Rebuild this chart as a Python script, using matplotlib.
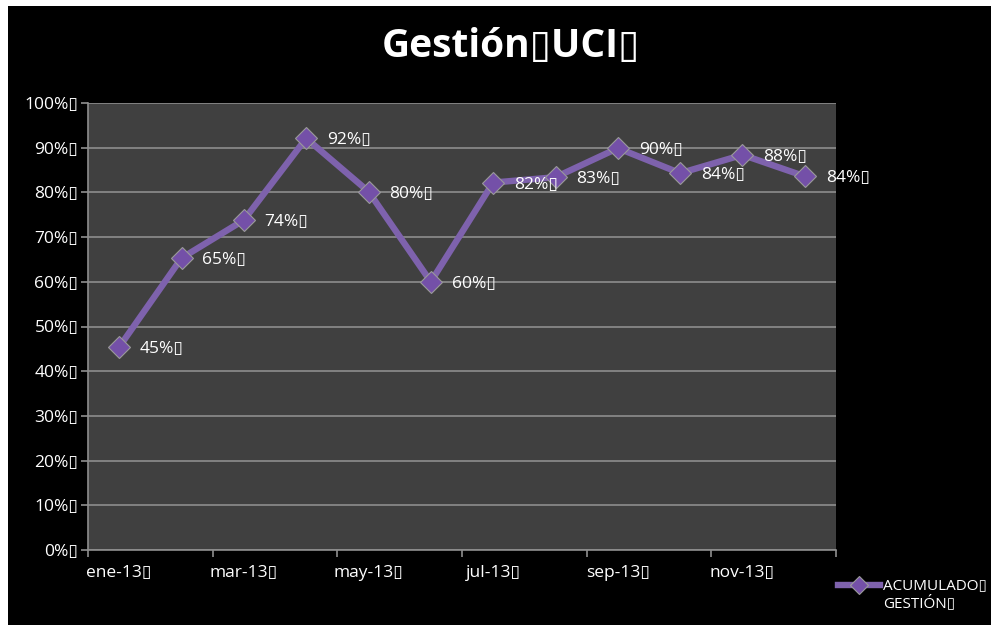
import matplotlib
matplotlib.use("Agg")
import matplotlib.pyplot as plt
from matplotlib.patches import Rectangle
from matplotlib.lines import Line2D

months = ["ene-13", "feb-13", "mar-13", "abr-13", "may-13", "jun-13",
          "jul-13", "ago-13", "sep-13", "oct-13", "nov-13", "dic-13"]
values = [0.454, 0.653, 0.738, 0.921, 0.802, 0.600,
          0.822, 0.834, 0.899, 0.843, 0.884, 0.836]
y_ticks = [0.0, 0.1, 0.2, 0.3, 0.4, 0.5, 0.6, 0.7, 0.8, 0.9, 1.0]
BOX = "\u25af"
title = "Gestión" + BOX + "UCI" + BOX
legend_label = "ACUMULADO" + BOX + "\nGESTIÓN" + BOX

W, H = 992, 628
plt.rcParams['font.family'] = ['Open Sans', 'DejaVu Sans']
fig = plt.figure(figsize=(W / 100, H / 100), dpi=100, facecolor="white")

fig.patches.append(Rectangle((8 / W, 1 - 625 / H), (991 - 8) / W, (625 - 6) / H,
                             transform=fig.transFigure, facecolor="black",
                             edgecolor="none", zorder=-10))

ax = fig.add_axes([88 / W, 1 - 550 / H, (836 - 88) / W, (550 - 103) / H])
ax.set_zorder(2)
ax.set_facecolor("#404040")
x = list(range(len(months)))
line_color = "#7e62ad"
ax.plot(x, values, color=line_color, lw=4.6, zorder=3, solid_capstyle="round")
ax.plot(x, values, ls="none", marker="D", markersize=11.5, markerfacecolor="#7450a8",
        markeredgecolor="#9a9a9a", markeredgewidth=0.8, zorder=4)

for xi, v in zip(x, values):
    ax.annotate(f"{round(v * 100):.0f}%" + BOX, (xi, v), xytext=(15, -1.5),
                textcoords="offset points", ha="left", va="center",
                color="white", fontsize=12.5, zorder=5, annotation_clip=False)

ax.set_xlim(-0.5, len(months) - 0.5)
ax.set_ylim(0, 1)
ax.set_yticks(y_ticks)
ax.set_yticklabels([f"{int(round(t * 100))}%" + BOX for t in y_ticks])
ax.yaxis.grid(True, color="#8e8e8e", lw=1.2)
ax.set_axisbelow(True)

major = x[::2]
ax.set_xticks(major)
ax.set_xticklabels([months[i] + BOX for i in major])
ax.set_xticks([i - 0.5 for i in range(0, len(months) + 1, 2)], minor=True)
ax.tick_params(axis="x", which="major", length=0, pad=11, colors="white", labelsize=12.5)
ax.tick_params(axis="x", which="minor", length=5, direction="out", color="#8e8e8e", width=1.2)
ax.tick_params(axis="y", length=5, direction="out", color="#8e8e8e", width=1.2,
               labelcolor="white", labelsize=12.5, pad=2)
for s in ["top", "right"]:
    ax.spines[s].set_visible(False)
for s in ["left", "bottom"]:
    ax.spines[s].set_color("#8e8e8e")
    ax.spines[s].set_linewidth(1.2)

fig.text(0.515, 1 - 47 / H, title, ha="center", va="center", color="white",
         fontsize=28, fontweight="bold")

# legend
fig.lines.append(Line2D([838 / W, 880 / W], [1 - 585 / H, 1 - 585 / H],
                        transform=fig.transFigure, color=line_color, lw=4.6))
fig.lines.append(Line2D([859 / W], [1 - 585 / H], transform=fig.transFigure,
                        marker="D", markersize=9, markerfacecolor="#7450a8",
                        markeredgecolor="#9a9a9a", markeredgewidth=0.8, ls="none"))
fig.text(883 / W, 1 - 595 / H, legend_label, ha="left", va="center",
         color="white", fontsize=11, linespacing=1.2)

fig.savefig("out.png", dpi=100, facecolor="white")
